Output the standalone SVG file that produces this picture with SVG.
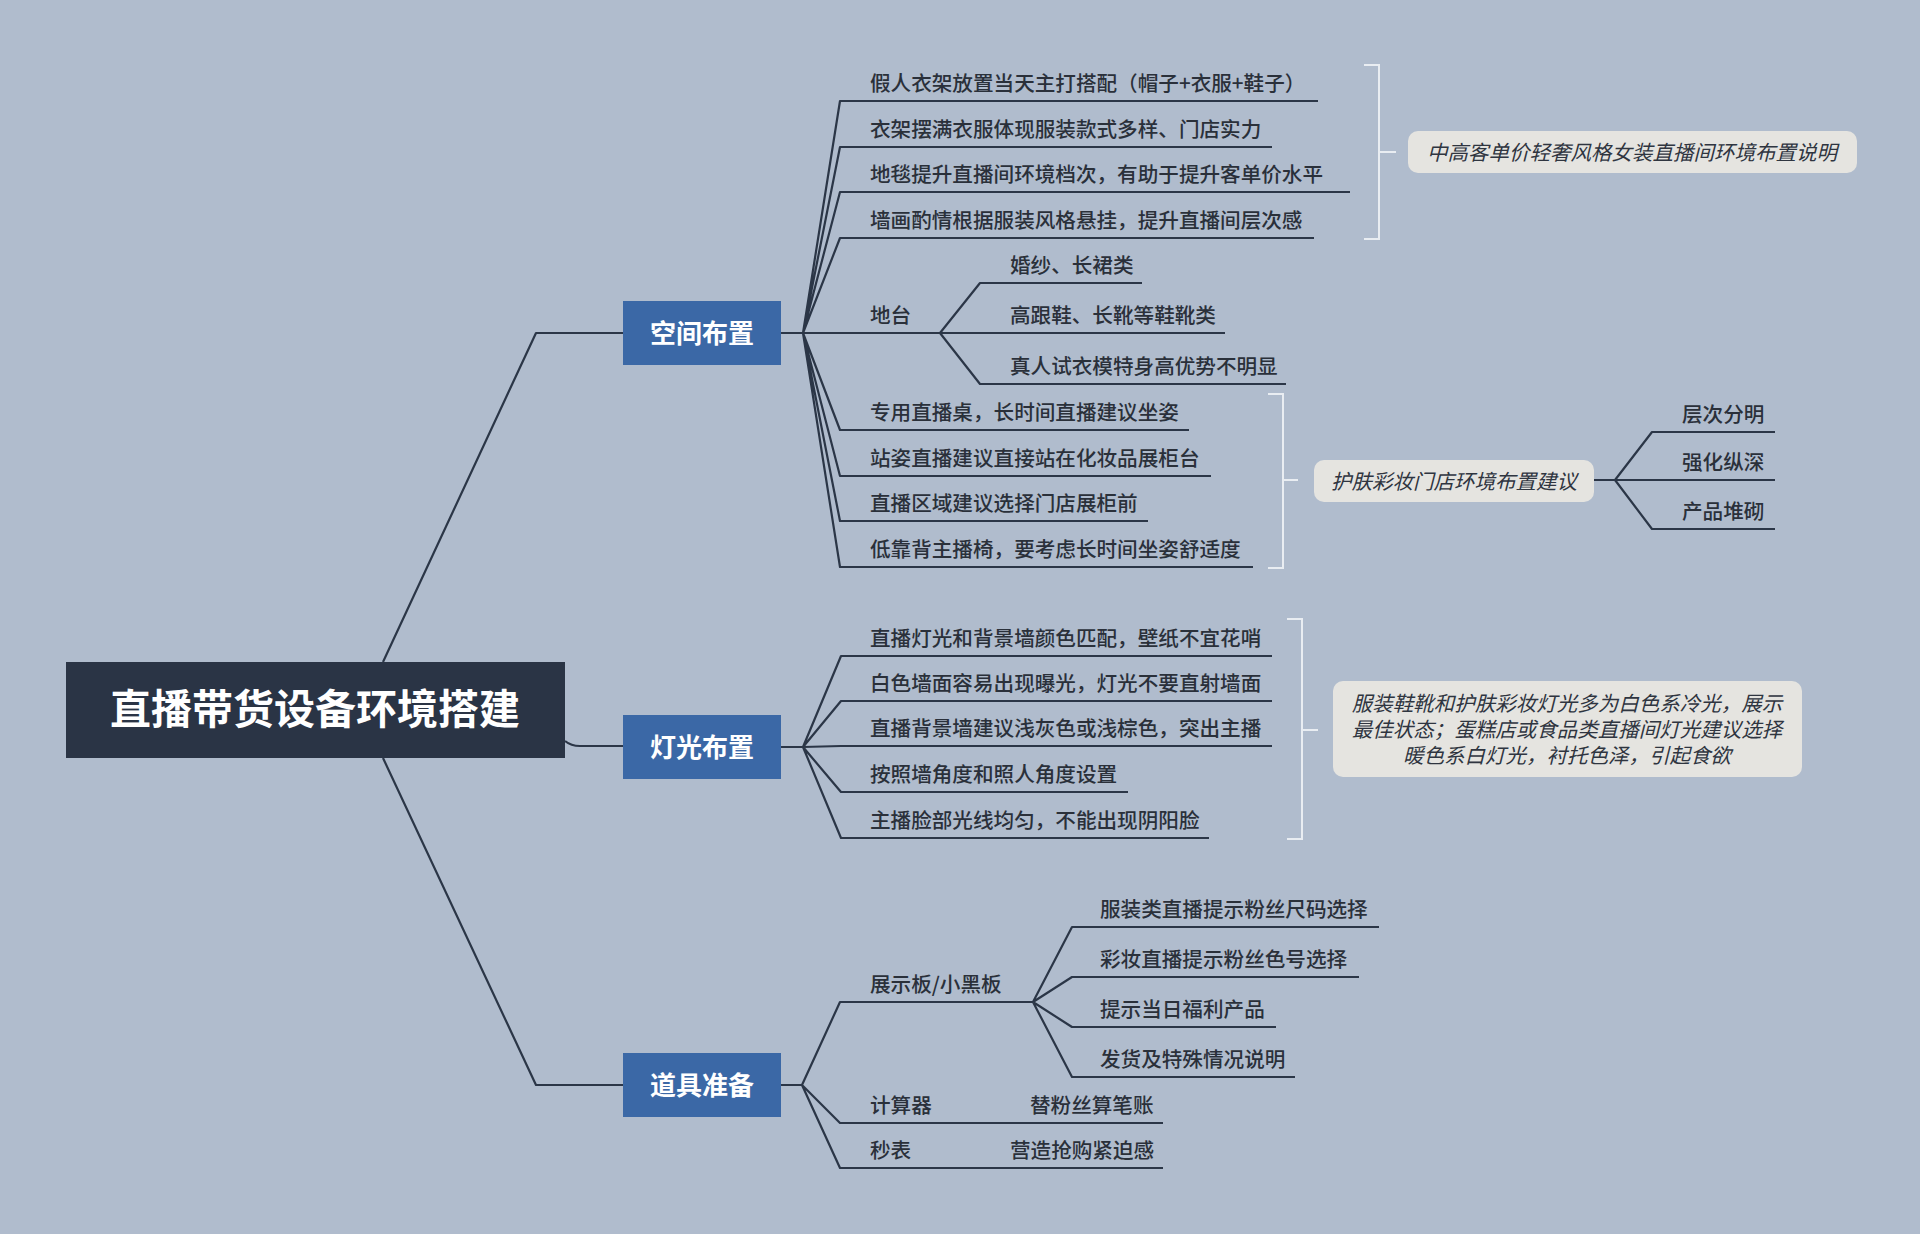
<svg xmlns="http://www.w3.org/2000/svg" width="1920" height="1234" viewBox="0 0 1920 1234">
<style>
.bg{fill:#b0bccd}
.ln{fill:none;stroke:#2b3647;stroke-width:2.2;stroke-linejoin:round}
.br{fill:none;stroke:#e9edf2;stroke-width:2}
.t{font-family:"Noto Sans CJK SC","Noto Sans",sans-serif;font-size:20.6px;font-weight:500;fill:#2a303a}
.nt{font-family:"Noto Sans CJK SC","Noto Sans",sans-serif;font-size:20.5px;fill:#2f3540;font-style:italic}
.bt{font-family:"Noto Sans CJK SC","Noto Sans",sans-serif;font-size:26px;font-weight:bold;fill:#ffffff;text-anchor:middle}
.blue{fill:#3b68a6}
.note{fill:#e5e4e0}
</style>
<rect class="bg" x="0" y="0" width="1920" height="1234"/>
<g id="connectors">
<path class="ln" d="M383,662 L536,333 L623,333"/>
<path class="ln" d="M565,741 Q571,746 580,746 L623,746"/>
<path class="ln" d="M383,758 L536,1085 L623,1085"/>
<path class="ln" d="M781,333 H803 L840,101 H1318 M803,333 L840,147 H1272 M803,333 L840,192 H1350 M803,333 L840,238 H1314 M803,333 H1225 M803,333 L840,430 H1189 M803,333 L840,476 H1211 M803,333 L840,521 H1148 M803,333 L840,567 H1253"/>
<path class="ln" d="M940,333 L980,283 H1142 M940,333 L980,384 H1286"/>
<path class="ln" d="M781,747 H803 L841,656 H1272 M803,747 L841,701 H1272 M803,747 L841,746 H1272 M803,747 L841,792 H1128 M803,747 L841,838 H1209"/>
<path class="ln" d="M781,1085 H802 L840,1002 H1033 M802,1085 L840,1123 H1163 M802,1085 L840,1168 H1163"/>
<path class="ln" d="M1033,1002 L1072,927 H1379 M1033,1002 L1072,977 H1359 M1033,1002 L1072,1027 H1276 M1033,1002 L1072,1077 H1295"/>
<path class="ln" d="M1594,480 H1775 M1615,480 L1652,432 H1775 M1615,480 L1652,529 H1775"/>
<path class="br" d="M1364,65 H1379 V239 H1364 M1379,152 H1396"/>
<path class="br" d="M1268,394 H1283 V568 H1268 M1283,480 H1298"/>
<path class="br" d="M1287,619 H1302 V839 H1287 M1302,730 H1318"/>
</g>
<g id="root">
<rect x="66" y="662" width="499" height="96" fill="#2a3445"/>
<text x="315" y="724" font-family="Noto Sans CJK SC, Noto Sans, sans-serif" font-size="41" font-weight="bold" fill="#ffffff" text-anchor="middle">直播带货设备环境搭建</text>
</g>
<g id="n-space">
<rect class="blue" x="623" y="301" width="158" height="64"/>
<text class="bt" x="702" y="343">空间布置</text>
</g>
<g id="n-light">
<rect class="blue" x="623" y="715" width="158" height="64"/>
<text class="bt" x="702" y="757">灯光布置</text>
</g>
<g id="n-props">
<rect class="blue" x="623" y="1053" width="158" height="64"/>
<text class="bt" x="702" y="1095">道具准备</text>
</g>
<g id="space-items">
<text class="t" x="870" y="91">假人衣架放置当天主打搭配（帽子+衣服+鞋子）</text>
<text class="t" x="870" y="137">衣架摆满衣服体现服装款式多样、门店实力</text>
<text class="t" x="870" y="182">地毯提升直播间环境档次，有助于提升客单价水平</text>
<text class="t" x="870" y="228">墙画酌情根据服装风格悬挂，提升直播间层次感</text>
<text class="t" x="870" y="323">地台</text>
<text class="t" x="1010" y="273">婚纱、长裙类</text>
<text class="t" x="1010" y="323">高跟鞋、长靴等鞋靴类</text>
<text class="t" x="1010" y="374">真人试衣模特身高优势不明显</text>
<text class="t" x="870" y="420">专用直播桌，长时间直播建议坐姿</text>
<text class="t" x="870" y="466">站姿直播建议直接站在化妆品展柜台</text>
<text class="t" x="870" y="511">直播区域建议选择门店展柜前</text>
<text class="t" x="870" y="557">低靠背主播椅，要考虑长时间坐姿舒适度</text>
</g>
<g id="note-1">
<rect class="note" x="1408" y="131" width="449" height="42" rx="10"/>
<text class="nt" x="1632" y="160" text-anchor="middle">中高客单价轻奢风格女装直播间环境布置说明</text>
</g>
<g id="note-2">
<rect class="note" x="1314" y="460" width="280" height="42" rx="10"/>
<text class="nt" x="1454" y="489" text-anchor="middle">护肤彩妆门店环境布置建议</text>
</g>
<g id="note-2-items">
<text class="t" x="1682" y="422">层次分明</text>
<text class="t" x="1682" y="470">强化纵深</text>
<text class="t" x="1682" y="519">产品堆砌</text>
</g>
<g id="light-items">
<text class="t" x="870" y="646">直播灯光和背景墙颜色匹配，壁纸不宜花哨</text>
<text class="t" x="870" y="691">白色墙面容易出现曝光，灯光不要直射墙面</text>
<text class="t" x="870" y="736">直播背景墙建议浅灰色或浅棕色，突出主播</text>
<text class="t" x="870" y="782">按照墙角度和照人角度设置</text>
<text class="t" x="870" y="828">主播脸部光线均匀，不能出现阴阳脸</text>
</g>
<g id="note-3">
<rect class="note" x="1333" y="681" width="469" height="96" rx="10"/>
<text class="nt" x="1567" y="711" text-anchor="middle">服装鞋靴和护肤彩妆灯光多为白色系冷光，展示</text>
<text class="nt" x="1567" y="737" text-anchor="middle">最佳状态；蛋糕店或食品类直播间灯光建议选择</text>
<text class="nt" x="1567" y="763" text-anchor="middle">暖色系白灯光，衬托色泽，引起食欲</text>
</g>
<g id="props-items">
<text class="t" x="870" y="992">展示板/小黑板</text>
<text class="t" x="1100" y="917">服装类直播提示粉丝尺码选择</text>
<text class="t" x="1100" y="967">彩妆直播提示粉丝色号选择</text>
<text class="t" x="1100" y="1017">提示当日福利产品</text>
<text class="t" x="1100" y="1067">发货及特殊情况说明</text>
<text class="t" x="870" y="1113">计算器</text>
<text class="t" x="1030" y="1113">替粉丝算笔账</text>
<text class="t" x="870" y="1158">秒表</text>
<text class="t" x="1010" y="1158">营造抢购紧迫感</text>
</g>
</svg>
